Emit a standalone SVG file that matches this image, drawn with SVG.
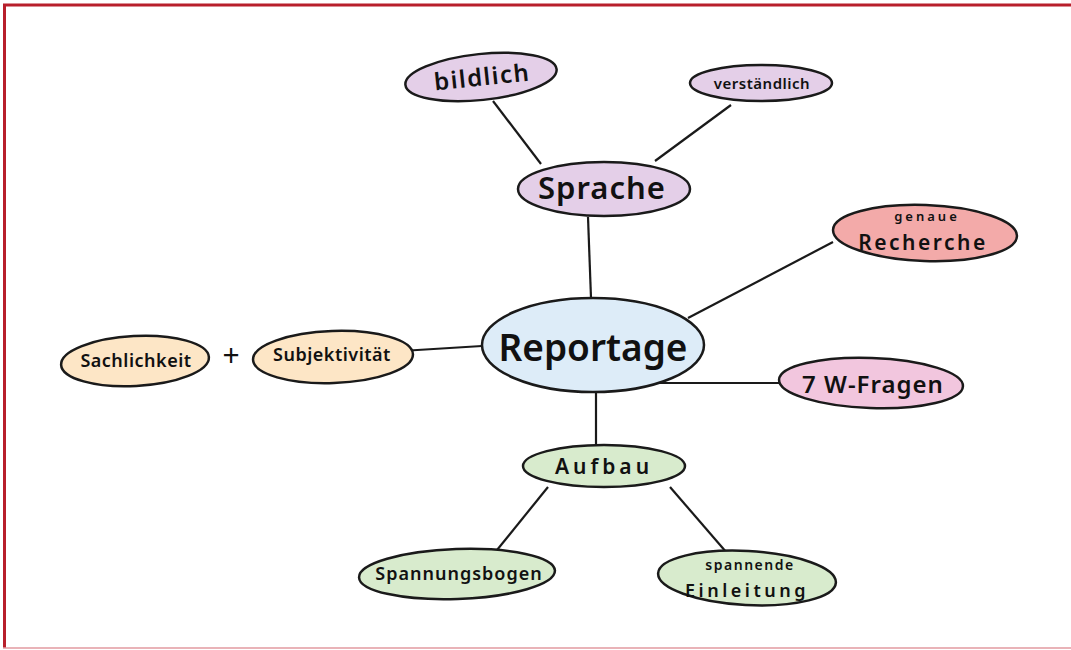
<svg xmlns="http://www.w3.org/2000/svg" width="1071" height="650" viewBox="0 0 1071 650">
<style>
.n{stroke:#1a1a1a;stroke-width:2.5}
.t{font-family:"Noto Sans","Liberation Sans",sans-serif;font-weight:600;fill:#111;text-anchor:middle;dominant-baseline:central}
.c{stroke:#1a1a1a;stroke-width:2.2;fill:none}
.purple{fill:#e4cfe8}.blue{fill:#ddecf8}.red{fill:#f3aaa9}.pink{fill:#f2c6de}.peach{fill:#fde6c6}.green{fill:#d8ebcd}
</style>
<rect x="0" y="0" width="1071" height="650" fill="#fff"/>
<g id="frame" fill="none">
<line x1="3" y1="5" x2="1071" y2="5" stroke="#b81f2b" stroke-width="3"/>
<line x1="4.5" y1="4" x2="4.5" y2="648" stroke="#b81f2b" stroke-width="3"/>
<line x1="3" y1="648" x2="1071" y2="648" stroke="#e29aa0" stroke-width="1.5"/>
</g>
<g id="connectors">
<line class="c" x1="493" y1="101" x2="541" y2="164"/>
<line class="c" x1="731" y1="105" x2="655" y2="161"/>
<line class="c" x1="588" y1="217" x2="591" y2="298"/>
<line class="c" x1="688" y1="318" x2="833" y2="242"/>
<line class="c" x1="385" y1="352" x2="482" y2="346"/>
<line class="c" x1="645" y1="383" x2="780" y2="383"/>
<line class="c" x1="596" y1="391" x2="596" y2="445"/>
<line class="c" x1="548" y1="487" x2="497" y2="550"/>
<line class="c" x1="670" y1="487" x2="727" y2="553"/>
</g>
<g id="bildlich"><ellipse class="n purple" cx="481" cy="77" rx="76" ry="23" transform="rotate(-6 481 77)"/><text class="t" x="482" y="76" font-size="24" letter-spacing="1.5" transform="rotate(-6 482 76)">bildlich</text></g>
<g id="verstaendlich"><ellipse class="n purple" cx="761" cy="83" rx="71" ry="18"/><text class="t" x="762" y="83" font-size="15" letter-spacing="0.5">verständlich</text></g>
<g id="sprache"><ellipse class="n purple" cx="604" cy="189" rx="86" ry="27"/><text class="t" x="602" y="187" font-size="31" letter-spacing="1">Sprache</text></g>
<g id="recherche"><ellipse class="n red" cx="925" cy="233" rx="92" ry="28" transform="rotate(2 925 233)"/><text class="t" x="927" y="216" font-size="13" letter-spacing="3">genaue</text><text class="t" x="923" y="242" font-size="21" letter-spacing="2.5">Recherche</text></g>
<g id="reportage"><ellipse class="n blue" cx="593" cy="345" rx="111" ry="47"/><text class="t" x="593" y="346" font-size="37">Reportage</text></g>
<g id="sachlichkeit"><ellipse class="n peach" cx="135" cy="361" rx="74" ry="25" transform="rotate(-3 135 361)"/><text class="t" x="136" y="360" font-size="18" letter-spacing="0.5">Sachlichkeit</text></g>
<text class="t" x="231" y="354" font-size="30" style="font-weight:400">+</text>
<g id="subjektivitaet"><ellipse class="n peach" cx="333" cy="357" rx="80" ry="26" transform="rotate(-2 333 357)"/><text class="t" x="332" y="354" font-size="18" letter-spacing="0.5">Subjektivität</text></g>
<g id="fragen"><ellipse class="n pink" cx="871" cy="383" rx="92" ry="25" transform="rotate(2 871 383)"/><text class="t" x="873" y="383" font-size="24" letter-spacing="1">7 W-Fragen</text></g>
<g id="aufbau"><ellipse class="n green" cx="604" cy="466" rx="81" ry="21"/><text class="t" x="604" y="466" font-size="21" letter-spacing="4">Aufbau</text></g>
<g id="spannungsbogen"><ellipse class="n green" cx="457" cy="574" rx="98" ry="25" transform="rotate(-2 457 574)"/><text class="t" x="459" y="573" font-size="18" letter-spacing="1">Spannungsbogen</text></g>
<g id="einleitung"><ellipse class="n green" cx="747" cy="578" rx="89" ry="27" transform="rotate(3 747 578)"/><text class="t" x="750" y="564" font-size="14" letter-spacing="1.5">spannende</text><text class="t" x="747" y="590" font-size="18" letter-spacing="3.5">Einleitung</text></g>
</svg>
